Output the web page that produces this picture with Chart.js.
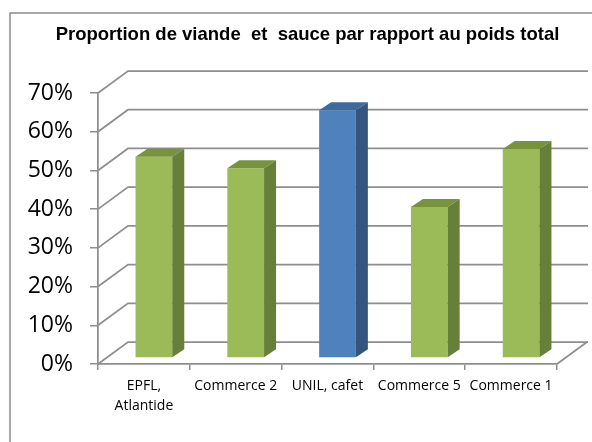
<!DOCTYPE html>
<html>
<head>
<meta charset="utf-8">
<script src="https://cdn.jsdelivr.net/npm/chart.js@4"></script>
<style>
  body { margin: 0; background: #fff; }
  #wrap { width: 592px; height: 442px; }
</style>
</head>
<body>
<div id="wrap"><canvas id="proportion-chart" width="592" height="442"></canvas></div>
<script>
// données
const categories = [['EPFL,', 'Atlantide'], 'Commerce 2', 'UNIL, cafet', 'Commerce 5', 'Commerce 1'];
const proportions = [52, 49, 64, 39, 54];
const yTicks = [0, 10, 20, 30, 40, 50, 60, 70];
const chartTitle = 'Proportion de viande  et  sauce par rapport au poids total';

// couleurs façon Excel (face, dessus, côté)
const GREEN = ['#9bbb59', '#77933c', '#66803a'];
const BLUE = ['#4f81bd', '#3f6a9d', '#34557e'];
const barColors = [GREEN, GREEN, BLUE, GREEN, GREEN];

const GRID = '#8e8e8e';
const WALL_DX = 30, WALL_DY = -22;   // profondeur des murs
const BAR_DX = 10, BAR_DY = -6;      // position des barres dans la profondeur
const SIDE_DX = 12, SIDE_DY = -8;    // épaisseur des barres

const wallsPlugin = {
    id: 'walls',
    beforeDraw(chart) {
        const ctx = chart.ctx;
        ctx.save();
        ctx.fillStyle = '#fff';
        ctx.fillRect(0, 0, chart.width, chart.height);
        // cadre du graphique
        ctx.strokeStyle = '#8c8c8c';
        ctx.lineWidth = 1.5;
        ctx.strokeRect(10, 13, 620, 460);
        // titre
        ctx.fillStyle = '#000';
        ctx.font = 'bold 18.5px "Liberation Sans", Arial, sans-serif';
        ctx.textAlign = 'center';
        ctx.textBaseline = 'middle';
        ctx.fillText(chartTitle, 307.5, 34.5);
        ctx.restore();
    },
    beforeDatasetsDraw(chart) {
        const ctx = chart.ctx;
        const y = chart.scales.y;
        const area = chart.chartArea;
        ctx.save();
        ctx.strokeStyle = GRID;
        ctx.lineWidth = 1.75;
        ctx.beginPath();
        yTicks.forEach(v => {
            const py = y.getPixelForValue(v);
            // mur de gauche
            ctx.moveTo(area.left, py);
            ctx.lineTo(area.left + WALL_DX, py + WALL_DY);
            // mur du fond
            ctx.lineTo(area.right + WALL_DX + 1, py + WALL_DY);
        });
        // sol, côté droit
        const base = y.getPixelForValue(0);
        ctx.moveTo(area.right, base);
        ctx.lineTo(area.right + WALL_DX, base + WALL_DY);
        ctx.stroke();
        ctx.restore();

        // les barres sont dessinées dans la profondeur
        ctx.save();
        ctx.translate(BAR_DX, BAR_DY);
    },
    afterDatasetsDraw(chart) {
        const ctx = chart.ctx;
        const meta = chart.getDatasetMeta(0);
        meta.data.forEach((bar, i) => {
            const props = bar.getProps(['x', 'y', 'base', 'width'], true);
            const xl = props.x - props.width / 2;
            const xr = props.x + props.width / 2;
            const colors = barColors[i];
            // dessus
            ctx.fillStyle = colors[1];
            ctx.beginPath();
            ctx.moveTo(xl, props.y);
            ctx.lineTo(xl + SIDE_DX, props.y + SIDE_DY);
            ctx.lineTo(xr + SIDE_DX, props.y + SIDE_DY);
            ctx.lineTo(xr, props.y);
            ctx.closePath();
            ctx.fill();
            // côté
            ctx.fillStyle = colors[2];
            ctx.beginPath();
            ctx.moveTo(xr, props.y);
            ctx.lineTo(xr + SIDE_DX, props.y + SIDE_DY);
            ctx.lineTo(xr + SIDE_DX, props.base + SIDE_DY);
            ctx.lineTo(xr, props.base);
            ctx.closePath();
            ctx.fill();
        });
        ctx.restore();
    }
};

const ctx = document.getElementById('proportion-chart').getContext('2d');
new Chart(ctx, {
    type: 'bar',
    data: {
        labels: categories,
        datasets: [{
            data: proportions,
            backgroundColor: barColors.map(c => c[0]),
            borderWidth: 0,
            categoryPercentage: 1,
            barPercentage: 0.4,
            clip: false
        }]
    },
    options: {
        responsive: false,
        animation: false,
        devicePixelRatio: 1,
        layout: { padding: { top: 93, right: 35, left: 0, bottom: 0 } },
        plugins: {
            legend: { display: false },
            tooltip: { enabled: false },
            title: { display: false }
        },
        scales: {
            x: {
                grid: { drawOnChartArea: false, drawTicks: true, tickLength: 6, color: GRID, lineWidth: 1.5 },
                border: { display: true, color: GRID, width: 1.75 },
                ticks: {
                    color: '#000',
                    padding: 6,
                    maxRotation: 0,
                    autoSkip: false,
                    font: { family: '"Open Sans", sans-serif', size: 14, lineHeight: 1.43 }
                },
                afterFit(scale) { scale.height = 78; }
            },
            y: {
                min: 0,
                max: 70,
                afterBuildTicks(scale) { scale.ticks = yTicks.map(v => ({ value: v })); },
                grid: { drawOnChartArea: false, drawTicks: true, tickLength: 8, color: GRID, lineWidth: 1.5 },
                border: { display: true, color: GRID, width: 1.75 },
                ticks: {
                    color: '#000',
                    padding: 17,
                    font: { family: '"Open Sans", sans-serif', size: 23 },
                    callback: v => v + '%'
                },
                afterFit(scale) { scale.width = 98; }
            }
        }
    },
    plugins: [wallsPlugin]
});
</script>
</body>
</html>
